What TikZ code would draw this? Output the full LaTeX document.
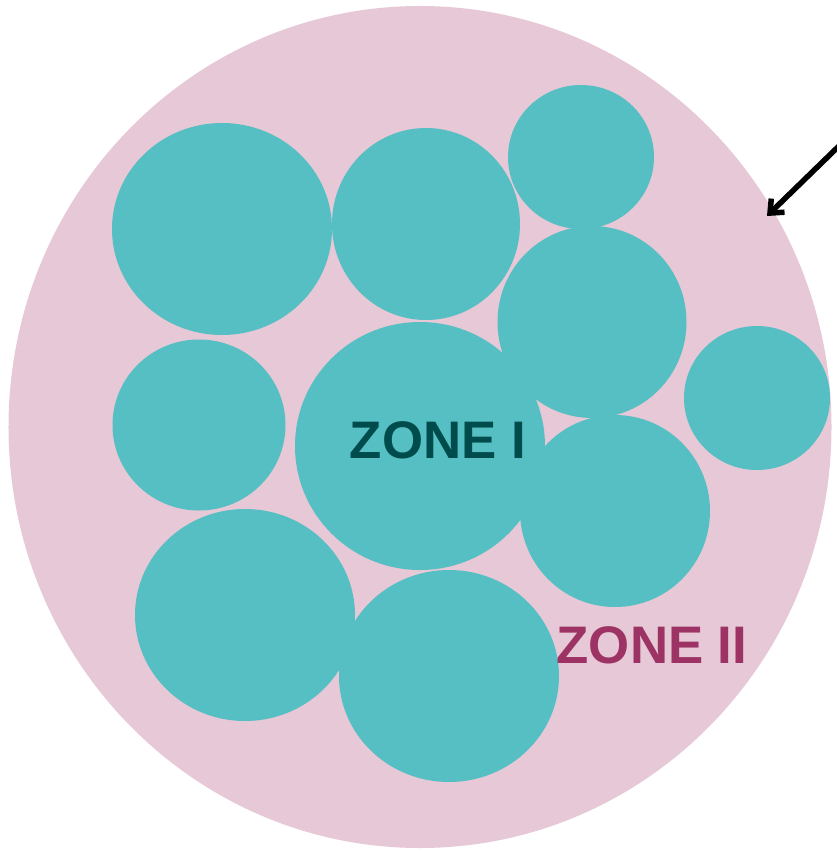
\documentclass[tikz,border=0pt]{standalone}
\usepackage{fontspec}
\setmainfont{Liberation Sans}
\usetikzlibrary{shapes.geometric,arrows.meta}
\definecolor{zonepink}{HTML}{E6C8D6}
\definecolor{grain}{HTML}{55BFC3}
\definecolor{zoneone}{HTML}{004B4B}
\definecolor{zonetwo}{HTML}{9C3364}
\tikzset{
  blob/.style n args={2}{ellipse, fill=grain, draw=none, inner sep=0pt,
    minimum width=#1, minimum height=#2},
  zonelabel/.style={font=\bfseries\fontsize{53}{60}\selectfont, inner sep=0pt}
}
\begin{document}
\begin{tikzpicture}[x=1bp,y=-1bp]
\useasboundingbox (0,0) rectangle (837,851);
% outer region
\node[ellipse, fill=zonepink, draw=none, inner sep=0pt,
  minimum width=823bp, minimum height=842bp] (outer) at (420,427) {};
% grains
\node[blob={220bp}{212bp}] (g1) at (222,229) {};
\node[blob={188bp}{192bp}] (g2) at (426,224) {};
\node[blob={146bp}{144bp}] (g3) at (581,157) {};
\node[blob={189bp}{192bp}] (g4) at (592,322) {};
\node[blob={173bp}{171bp}] (g5) at (199,425) {};
\node[blob={250bp}{248bp}] (g6) at (420,446) {};
\node[blob={146bp}{144bp}] (g7) at (757,398) {};
\node[blob={190bp}{192bp}] (g8) at (615,511) {};
\node[blob={220bp}{212bp}] (g9) at (245,615) {};
\node[blob={220bp}{212bp}] (g10) at (449,676) {};
% labels
\node[zonelabel, text=zoneone] (z1) at (438,440) {ZONE I};
\node[zonelabel, text=zonetwo] (z2) at (652,645) {ZONE II};
% pointer
\coordinate (ptail) at (840,145);
\coordinate (phead) at (767,216);
\draw[line width=5.5bp, -{Straight Barb[length=11bp,width=19bp]}] (ptail) -- (phead);
\end{tikzpicture}
\end{document}
